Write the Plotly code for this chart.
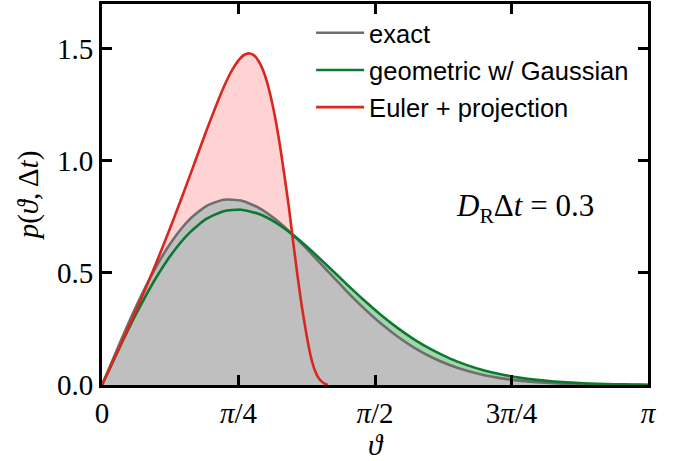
import plotly.graph_objects as go

# ---- data ----
theta = [0.0, 0.1, 0.2, 0.3, 0.4, 0.5, 0.6, 0.7, 0.8, 0.9, 1.0, 1.1, 1.2, 1.3, 1.4, 1.5,
         1.6, 1.7, 1.8, 1.9, 2.0, 2.1, 2.2, 2.3, 2.4, 2.5, 2.6, 2.7, 2.8, 2.9, 3.0, 3.1, 3.14159]
p_exact = [0.0, 0.1834, 0.3570, 0.5115, 0.6396, 0.7360, 0.7985, 0.8266, 0.8229, 0.7917,
           0.7383, 0.6688, 0.5898, 0.5069, 0.4247, 0.3474, 0.2773, 0.2164, 0.1648, 0.1227,
           0.0891, 0.0632, 0.0438, 0.0296, 0.0194, 0.0124, 0.0077, 0.0046, 0.0026, 0.0014,
           0.0007, 0.0002, 0.0]
p_geometric = [0.0, 0.1653, 0.3224, 0.4639, 0.5835, 0.6766, 0.7408, 0.7756, 0.7821, 0.7638,
               0.7243, 0.6688, 0.6024, 0.5299, 0.4557, 0.3834, 0.3158, 0.2549, 0.2016, 0.1564,
               0.1189, 0.0887, 0.0650, 0.0467, 0.0329, 0.0228, 0.0155, 0.0104, 0.0068, 0.0044,
               0.0028, 0.0017, 0.0014]

theta_euler = [0.0, 0.1, 0.2, 0.3, 0.4, 0.5, 0.6, 0.7, 0.75, 0.8, 0.825, 0.85, 0.875, 0.9,
               0.925, 0.95, 0.975, 1.0, 1.025, 1.05, 1.075, 1.1, 1.125, 1.15, 1.175, 1.2,
               1.225, 1.25, 1.28, 1.3]
p_euler = [0.0, 0.1675, 0.3398, 0.5216, 0.7157, 0.9219, 1.1333, 1.3286, 1.4073, 1.4614,
           1.4759, 1.4795, 1.4707, 1.4470, 1.4076, 1.3501, 1.2729, 1.1781, 1.0630, 0.9326,
           0.7948, 0.6379, 0.4879, 0.3484, 0.2319, 0.1318, 0.0644, 0.0266, 0.0060, 0.0]

x_tickvals = [0, 0.785398, 1.570796, 2.356194, 3.141593]
x_ticktext = ["0", "<i>π</i>/4", "<i>π</i>/2", "3<i>π</i>/4", "<i>π</i>"]
y_tickvals = [0.0, 0.5, 1.0, 1.5]
y_ticktext = ["0.0", "0.5", "1.0", "1.5"]

labels = ["exact", "geometric w/ Gaussian", "Euler + projection"]
line_colors = ["#6e6e6e", "#0b7a30", "#d9261f"]
fill_colors = ["#bfbfbf", "#a4d6ac", "#ffd3d3"]

SERIF = "Liberation Serif, DejaVu Serif, serif"
SANS = "Liberation Sans, Arial, sans-serif"

fig = go.Figure()

# fills (behind lines): red, green, gray
fig.add_trace(go.Scatter(x=theta_euler, y=p_euler, mode="lines", fill="tozeroy",
                         fillcolor=fill_colors[2], line=dict(width=0, shape="spline", smoothing=0.6),
                         showlegend=False, hoverinfo="skip"))
fig.add_trace(go.Scatter(x=theta, y=p_geometric, mode="lines", fill="tozeroy",
                         fillcolor=fill_colors[1], line=dict(width=0, shape="spline", smoothing=0.6),
                         showlegend=False, hoverinfo="skip"))
fig.add_trace(go.Scatter(x=theta, y=p_exact, mode="lines", fill="tozeroy",
                         fillcolor=fill_colors[0], line=dict(width=0, shape="spline", smoothing=0.6),
                         showlegend=False, hoverinfo="skip"))

# lines
for xs, ys, name, col, rank in [(theta, p_exact, labels[0], line_colors[0], 1),
                                (theta, p_geometric, labels[1], line_colors[1], 2),
                                (theta_euler, p_euler, labels[2], line_colors[2], 3)]:
    fig.add_trace(go.Scatter(x=xs, y=ys, mode="lines", name=name, legendgroup=name,
                             legendrank=rank,
                             line=dict(color=col, width=2.6, shape="spline", smoothing=0.6)))

axis_common = dict(showgrid=False, zeroline=False, showline=True, linecolor="black",
                   linewidth=3, mirror="ticks", ticks="inside", ticklen=10, tickwidth=2.5,
                   tickcolor="black", automargin=False,
                   tickfont=dict(family=SERIF, size=29, color="black"))

fig.update_xaxes(range=[0, 3.14159265], tickmode="array", tickvals=x_tickvals,
                 ticktext=x_ticktext,
                 title=dict(text="<i>ϑ</i>", font=dict(family=SERIF, size=29, color="black"),
                            standoff=4),
                 **axis_common)
fig.update_yaxes(range=[0, 1.7], tickmode="array", tickvals=y_tickvals, ticktext=y_ticktext,
                 title=dict(text="<i>p</i>(<i>ϑ</i>, Δ<i>t</i>)",
                            font=dict(family=SERIF, size=29, color="black"), standoff=10),
                 **axis_common)

fig.add_annotation(x=2.435, y=0.79, xref="x", yref="y", showarrow=False,
                   text="<i>D</i><sub>R</sub>Δ<i>t</i> = 0.3",
                   font=dict(family=SERIF, size=31, color="black"),
                   xanchor="center", yanchor="middle")

fig.update_layout(
    width=684, height=461,
    margin=dict(l=102, r=36, t=4, b=76),
    plot_bgcolor="white", paper_bgcolor="white",
    legend=dict(x=0.383, y=0.985, xanchor="left", yanchor="top",
                bgcolor="rgba(0,0,0,0)", borderwidth=0,
                font=dict(family=SANS, size=25.5, color="black"),
                traceorder="grouped", tracegroupgap=1, itemwidth=48),
)

fig.write_html("out.html", config={"displayModeBar": False},
               post_script="document.body.style.margin='0';document.body.style.padding='0';")
